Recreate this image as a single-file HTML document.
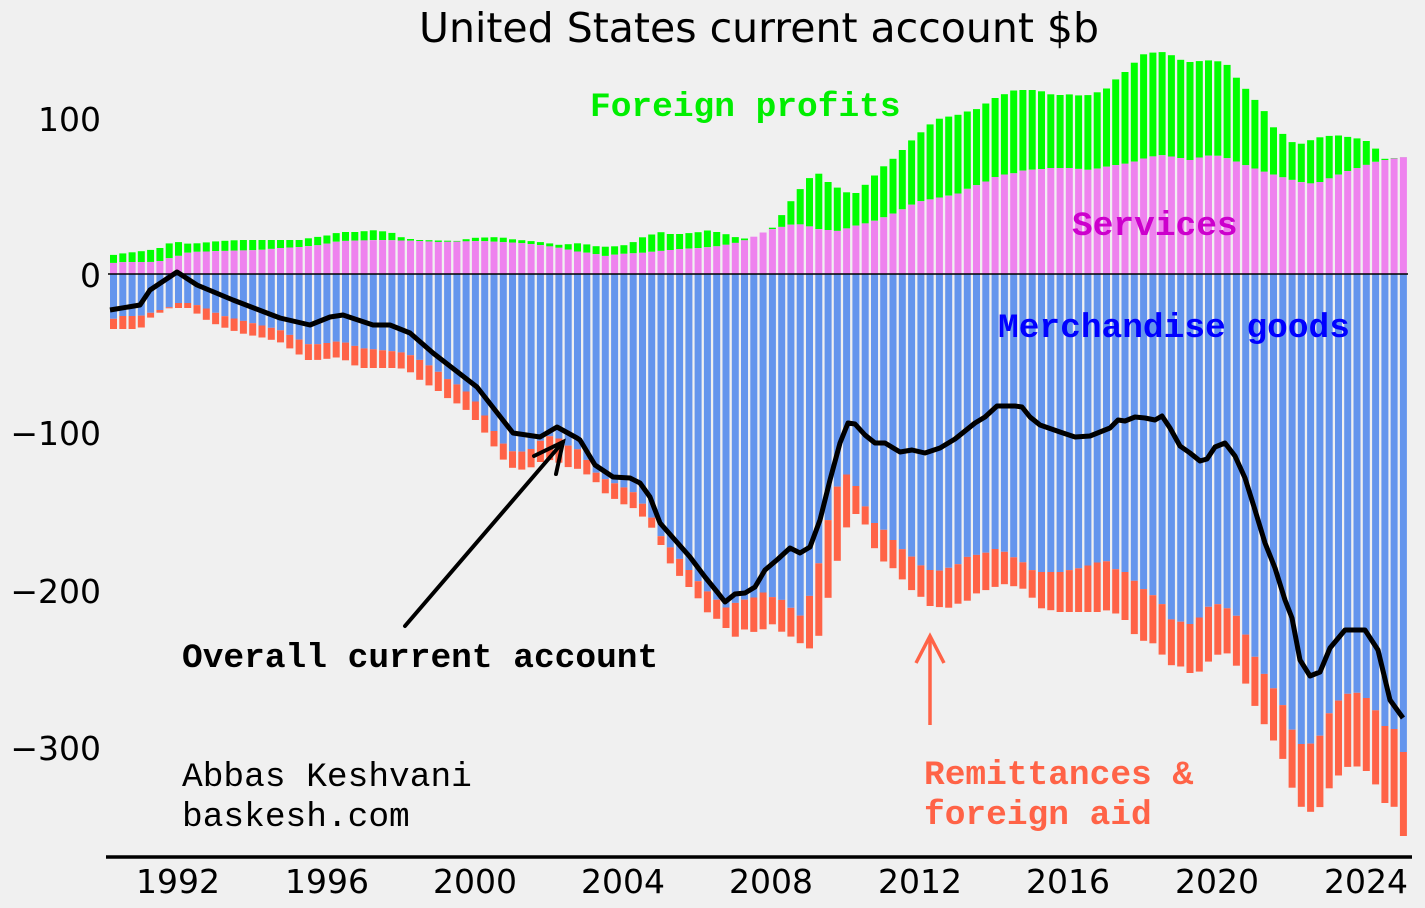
<!DOCTYPE html>
<html><head><meta charset="utf-8"><style>
html,body{margin:0;padding:0;background:#f0f0f0;}
svg{display:block;}
.t{font-family:"DejaVu Sans","Liberation Sans",sans-serif;}
.m{font-family:"Liberation Mono","DejaVu Sans Mono",monospace;font-size:34.5px;}
</style></head><body>
<svg id="s" width="1425" height="908" xmlns="http://www.w3.org/2000/svg">
<rect width="1425" height="908" fill="#f0f0f0"/>
<g id="bars"></g>
<line x1="108" y1="274" x2="1408" y2="274" stroke="#000" stroke-width="1.5"/>
<polyline id="ln" fill="none" stroke="#000" stroke-width="5" stroke-linejoin="round"/>
<line x1="106" y1="857" x2="1412" y2="857" stroke="#000" stroke-width="3.5"/>
<text class="t" x="759" y="42" font-size="41" text-anchor="middle">United States current account $b</text>
<g class="t" font-size="33" text-anchor="end">
<text x="101" y="131">100</text><text x="101" y="287">0</text>
<text x="101" y="445">−100</text><text x="101" y="603">−200</text><text x="101" y="760">−300</text>
</g>
<g class="t" font-size="33" text-anchor="middle">
<text x="178" y="893">1992</text><text x="327" y="893">1996</text><text x="475" y="893">2000</text>
<text x="623" y="893">2004</text><text x="771" y="893">2008</text><text x="920" y="893">2012</text>
<text x="1068" y="893">2016</text><text x="1217" y="893">2020</text><text x="1366" y="893">2024</text>
</g>
<text class="m" x="590" y="116" fill="#00ee00" font-weight="bold">Foreign profits</text>
<text class="m" x="1072" y="235" fill="#cc00cc" font-weight="bold">Services</text>
<text class="m" x="998" y="337" fill="#0000ff" font-weight="bold">Merchandise goods</text>
<text class="m" x="182" y="667" fill="#000" font-weight="bold">Overall current account</text>
<text class="m" x="924" y="784" fill="#ff6347" font-weight="bold">Remittances &amp;</text>
<text class="m" x="924" y="824" fill="#ff6347" font-weight="bold">foreign aid</text>
<text class="m" x="182" y="786" fill="#000">Abbas Keshvani</text>
<text class="m" x="182" y="826" fill="#000">baskesh.com</text>
<g stroke="#000" stroke-width="4" fill="none" stroke-linecap="round">
<line x1="405" y1="626" x2="563" y2="442"/>
<polyline points="534,456 563,442 556,474"/>
</g>
<g stroke="#ff6347" stroke-width="3.5" fill="none">
<line x1="930" y1="725" x2="930" y2="636"/>
<polyline points="916,663 930,636 944,663"/>
</g>
</svg>
<script>
function interp(a,x){if(x<=a[0][0])return a[0][1];for(var i=1;i<a.length;i++){if(x<=a[i][0]){var p=a[i-1],q=a[i];return p[1]+(q[1]-p[1])*(x-p[0])/(q[0]-p[0]);}}return a[a.length-1][1];}
function P(s){var v=s.trim().split(/\s+/).map(Number),r=[];for(var i=0;i<v.length;i+=2)r.push([v[i],v[i+1]]);return r;}
var pink=P("113 263 125 262 150 262 160 261 170 258 178 256 190 252 220 251 260 250 280 248 300 247 320 245 340 241 380 240 420 241 440 242 480 241 500 242 520 243 540 245 560 248 580 252 590 253 605 256 620 254 640 253 660 251 680 249 700 248 720 246 730 244 740 242 748 239 758 235 768 230 778 228 788 225 798 224 808 226 818 229 838 231 848 228 858 225 867 223 877 220 887 216 897 212 907 207 917 202 927 200 937 198 947 196 957 194 967 189 977 185 987 181 997 176 1007 174 1017 173 1027 169 1035 170 1050 168 1070 168 1090 170 1110 166 1130 163 1145 158 1160 155 1175 157 1190 160 1205 156 1215 155 1230 159 1245 165 1265 172 1285 178 1300 182 1315 184 1330 178 1345 172 1360 167 1375 162 1390 159 1405 157");
var green=P("113 255 125 253 135 252 150 250 160 248 170 243 178 242 190 244 200 243 220 241 240 240 300 240 310 238 330 235 340 232 360 232 370 230 390 232 400 237 410 239 420 240 460 241 470 238 500 237 510 239 520 240 540 242 560 245 580 243 590 245 600 247 620 246 630 244 640 238 650 235 660 232 670 234 680 234 700 232 710 230 720 233 730 235 740 239 758 237 768 233 778 221 788 205 798 192 808 179 818 173 828 182 838 188 848 193 857 193 867 183 877 173 887 163 897 156 905 147 915 137 925 129 935 120 945 117 955 116 965 112 975 110 985 104 995 98 1005 94 1015 90 1035 90 1045 92 1055 96 1065 94 1085 96 1095 93 1105 90 1115 80 1125 72 1135 62 1145 53 1165 52 1175 57 1185 62 1195 62 1205 60 1225 62 1235 76 1245 88 1255 100 1265 112 1275 130 1285 135 1295 145 1305 143 1315 138 1335 135 1355 138 1365 140 1375 148 1385 159 1405 157");
var blue=P("113 319 122 316 140 316 150 313 160 310 170 307 178 303 190 303 200 306 210 310 220 315 240 320 260 325 280 330 300 340 310 345 320 344 340 341 350 344 360 348 400 352 410 355 420 360 430 366 440 373 450 381 460 386 470 395 480 407 490 425 500 440 510 451 520 452 530 450 540 441 548 436 557 437 570 447 580 450 595 472 605 479 623 487 633 492 642 503 652 518 660 535 670 547 678 557 688 569 698 581 707 591 717 600 725 608 735 603 743 600 753 598 762 592 772 597 782 600 790 607 800 616 808 601 818 567 827 524 837 487 847 474 855 484 865 506 873 522 883 529 892 539 902 549 910 555 920 565 930 570 938 571 948 568 957 565 967 557 985 553 995 549 1003 551 1013 557 1022 561 1028 569 1040 572 1060 572 1080 568 1105 560 1115 569 1125 572 1142 588 1160 600 1170 619 1190 624 1200 617 1210 605 1220 604 1235 613 1245 633 1254 655 1263 672 1272 686 1281 700 1290 726 1300 744 1310 744 1319 738 1328 715 1338 701 1347 694 1355 692 1363 695 1373 704 1382 726 1393 726 1403 752");
var red=P("113 329 140 329 150 318 155 315 170 308 190 308 200 316 210 322 220 326 240 333 260 337 280 342 300 355 310 361 340 357 350 363 360 368 400 368 410 372 420 380 430 386 440 392 450 400 460 405 470 413 480 426 490 440 500 456 510 467 520 470 530 468 540 462 550 460 560 463 570 468 580 469 595 481 605 493 623 504 633 508 642 516 652 528 660 543 670 563 678 574 688 586 698 598 707 612 717 619 725 627 735 637 743 629 753 632 762 630 772 624 782 632 790 636 800 643 808 650 818 639 827 602 837 562 847 526 855 513 865 524 873 546 883 561 892 567 902 579 910 589 920 596 930 606 948 608 957 604 967 601 977 593 995 587 1003 584 1013 586 1022 588 1028 592 1040 608 1060 612 1100 612 1105 610 1115 613 1125 620 1132 632 1142 641 1150 640 1161 653 1170 665 1180 666 1190 673 1198 673 1208 662 1217 655 1226 652 1235 663 1245 682 1254 704 1263 722 1272 738 1281 753 1290 783 1300 806 1310 812 1319 809 1328 790 1338 776 1347 767 1355 766 1363 768 1373 777 1382 803 1393 803 1403 836");
var line=P("110 310 140 305 150 290 177 272 197 285 233 300 280 318 310 325 330 317 343 315 373 325 390 325 410 333 433 353 477 387 513 433 540 437 557 427 577 438 580 440 595 465 613 477 630 478 640 483 650 497 660 523 675 540 690 557 705 577 718 593 725 602 735 594 745 593 755 587 765 570 778 559 790 548 800 553 810 547 820 520 830 480 840 443 848 423 855 424 865 435 875 443 885 443 900 452 912 450 925 453 940 448 955 439 975 423 985 417 997 406 1015 406 1022 407 1030 417 1040 425 1060 432 1075 437 1090 436 1100 432 1110 428 1118 420 1125 421 1135 417 1145 418 1155 420 1162 416 1170 428 1180 446 1190 453 1200 461 1207 459 1215 447 1225 443 1235 456 1245 478 1255 510 1265 543 1275 568 1285 600 1292 618 1300 660 1310 676 1320 672 1330 648 1345 630 1365 630 1378 650 1390 700 1403 718");
var g=document.getElementById('bars'),h='',pts=[];
for(var i=0;i<140;i++){var x=113.5+9.28*i,l=(x-3.5).toFixed(1);
var pt=interp(pink,x),gt=interp(green,x),bb=interp(blue,x),rb=interp(red,x);
if(gt>pt)gt=pt;if(rb<bb)rb=bb;
h+='<rect x="'+l+'" y="'+gt.toFixed(1)+'" width="7" height="'+(pt-gt).toFixed(1)+'" fill="#00ff00"/>';
h+='<rect x="'+l+'" y="'+pt.toFixed(1)+'" width="7" height="'+(274-pt).toFixed(1)+'" fill="#ee82ee"/>';
h+='<rect x="'+l+'" y="274" width="7" height="'+(bb-274).toFixed(1)+'" fill="#6495ed"/>';
h+='<rect x="'+l+'" y="'+bb.toFixed(1)+'" width="7" height="'+(rb-bb).toFixed(1)+'" fill="#ff6347"/>';
}
g.innerHTML=h;
for(var i=0;i<line.length;i++)pts.push(line[i][0]+','+line[i][1]);
document.getElementById('ln').setAttribute('points',pts.join(' '));
</script>
</body></html>
